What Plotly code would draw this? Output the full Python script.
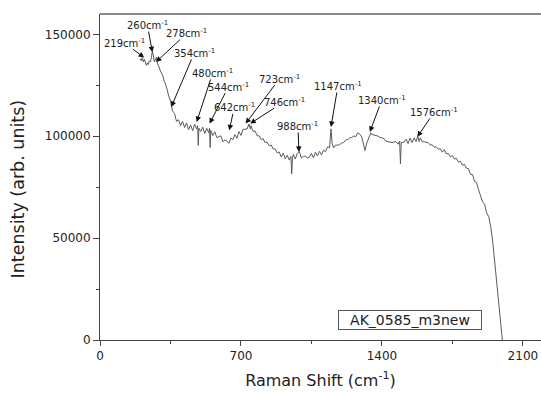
import plotly.graph_objects as go

# ---- data ----
shift = [200,205,210,215,220,225,230,235,240,245,250,255,260,265,270,275,280,285,290,295,300,
         310,320,330,340,350,360,370,380,390,400,410,420,430,440,450,460,470,480,485,488,491,
         500,510,520,530,540,544,547,550,560,570,580,590,600,610,620,630,640,650,660,670,680,
         690,700,710,720,730,740,747,750,760,770,780,790,800,810,820,830,840,850,860,870,880,
         890,900,910,920,930,940,948,952,956,960,970,980,990,1000,1010,1020,1030,1040,1050,
         1060,1070,1080,1090,1100,1110,1120,1130,1140,1147,1153,1160,1170,1180,1190,1200,1210,
         1220,1230,1240,1250,1260,1270,1280,1290,1300,1310,1316,1325,1335,1345,1350,1360,1370,
         1380,1390,1400,1410,1420,1430,1440,1450,1460,1470,1480,1488,1492,1496,1500,1510,1520,
         1530,1540,1550,1560,1570,1578,1585,1590,1600,1610,1620,1630,1640,1650,1660,1670,1680,
         1690,1700,1710,1720,1730,1740,1750,1760,1770,1780,1790,1800,1810,1820,1830,1840,1850,
         1860,1870,1880,1890,1900,1910,1920,1930,1940,1950,1960,1970,1980,1990,2000,2010]
intensity = [138000,137000,138500,136500,137800,135500,134800,136000,135200,137000,136500,138500,
             142000,139500,136500,137500,138800,136000,135000,133500,132000,
             130200,126800,124300,120200,117300,112400,111200,107300,108100,105200,107300,104300,
             106500,103200,105500,102700,105900,103600,105200,95500,104000,
             102300,104500,101300,103900,101700,104000,94500,102900,100300,102200,99300,99600,
             100200,97300,98200,97700,96500,99100,98300,100800,99000,
             102300,100400,103400,103300,103500,106000,103500,105200,102300,102600,100300,100200,
             98400,98800,96800,97200,95300,95700,93800,93700,91800,
             92300,89800,91700,88900,90700,88300,90100,81500,89200,91100,88800,91700,92500,89300,
             90100,90200,89400,89700,91600,
             89400,92100,90400,92600,90900,93200,92400,94800,94400,103600,96500,94300,95700,95600,
             95900,96700,96900,
             98200,98400,99200,99400,100100,99800,101700,101000,99600,94900,93000,96800,99400,
             101700,100900,100600,100400,
             100100,99400,99100,98900,97600,97400,97100,96900,97200,97400,96100,97600,86500,97100,
             96900,97100,98600,
             96400,99100,96900,99200,97400,100100,97400,99100,97400,97300,97100,96800,95700,95800,
             94600,94800,93700,
             93800,92200,93400,91300,91600,89900,90600,88800,89200,87300,87700,85800,86200,84300,
             84100,81300,81200,
             77800,77300,73700,71000,67800,66700,62300,60700,55800,48500,38800,29300,18800,9200,
             -1500,-12000]

peak_labels = [219, 260, 278, 354, 480, 544, 642, 723, 746, 988, 1147, 1340, 1576]
peak_tip_intensity = [138600, 141300, 136400, 114400, 107000, 106200, 102900, 106200, 106200,
                      92300, 104600, 102100, 99700]

x_ticks = [0, 700, 1400, 2100]
y_ticks = [0, 50000, 100000, 150000]
sample_name = "AK_0585_m3new"

# ---- layout helpers (pixel offsets of each label centre from its arrow tip) ----
text_off = [(-20, -15), (-5, -27), (31, -29), (23, -54), (16, -49), (19, -37), (5, -23),
            (34, -45), (34, -22), (-1, -26), (7, -41), (12, -32), (17, -25)]

FONT = "DejaVu Sans"
fig = go.Figure()
fig.add_trace(go.Scatter(x=shift, y=intensity, mode="lines",
                         line=dict(color="#5a5a5a", width=1), showlegend=False))

annotations = []
for lab, yi, (lx, ly) in zip(peak_labels, peak_tip_intensity, text_off):
    annotations.append(dict(x=lab, y=yi, xref="x", yref="y",
                            text=f"{lab}cm<sup>-1</sup>", showarrow=True,
                            ax=lx, ay=ly, arrowhead=2, arrowsize=1.1, arrowwidth=1,
                            arrowcolor="#111", standoff=0, borderpad=0,
                            font=dict(family=FONT, size=10, color="#222")))
# sample name box
annotations.append(dict(x=0.703, y=0.06, xref="paper", yref="paper", text=sample_name,
                        xanchor="center", yanchor="middle",
                        showarrow=False, width=140, height=16, borderwidth=1,
                        bordercolor="#555", borderpad=1, bgcolor="white",
                        font=dict(family=FONT, size=14, color="#222")))
# y-axis title
annotations.append(dict(x=-0.186, y=0.465, xref="paper", yref="paper",
                        text="Intensity (arb. units)", textangle=-90, showarrow=False,
                        xanchor="center", yanchor="middle",
                        font=dict(family=FONT, size=17.5, color="#222")))

fig.update_layout(
    width=541, height=394,
    margin=dict(l=100, r=0, t=14, b=54),
    paper_bgcolor="white", plot_bgcolor="white",
    font=dict(family=FONT, color="#222"),
    annotations=annotations,
    xaxis=dict(range=[0, 2190], tickvals=x_ticks, ticks="outside", ticklen=5,
               tickcolor="#444", showline=True, linecolor="#444", linewidth=1,
               mirror=False, showgrid=False, zeroline=False,
               tickfont=dict(family=FONT, size=12, color="#222"),
               minor=dict(ticks="outside", ticklen=3, dtick=350, tick0=0, tickcolor="#444"),
               title=dict(text="Raman Shift (cm<sup>-1</sup>)", standoff=12,
                          font=dict(family=FONT, size=16, color="#222"))),
    yaxis=dict(range=[0, 160000], tickvals=y_ticks, tickformat="d", ticks="outside",
               ticklen=6, tickcolor="#444", showline=True, linecolor="#444", linewidth=1,
               showgrid=False, zeroline=False,
               tickfont=dict(family=FONT, size=12, color="#222"),
               minor=dict(ticks="outside", ticklen=3, dtick=25000, tick0=0, tickcolor="#444")),
    shapes=[dict(type="line", xref="paper", yref="paper", x0=0, x1=1, y0=1, y1=1,
                 line=dict(color="#666", width=1.5))],
)

fig.write_html("out.html")
